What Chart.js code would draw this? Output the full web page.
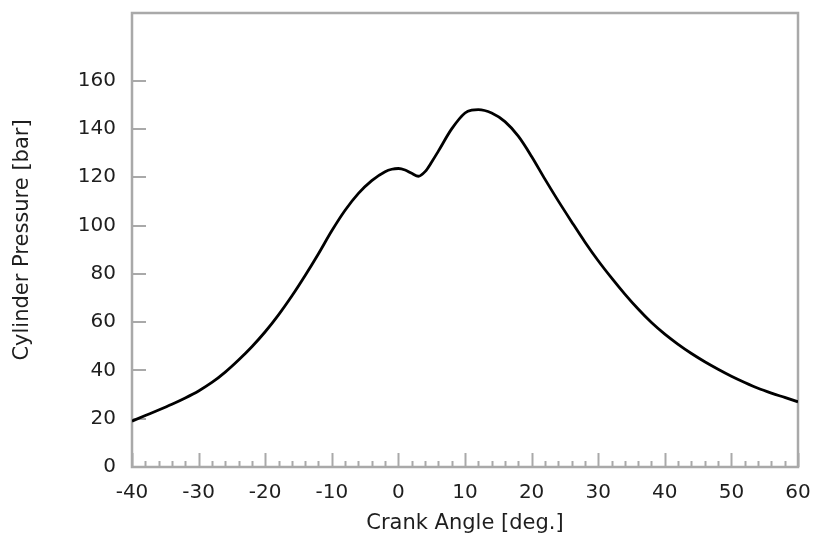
<!DOCTYPE html>
<html>
<head>
<meta charset="utf-8">
<script src="https://cdn.jsdelivr.net/npm/chart.js@4/dist/chart.umd.min.js"></script>
<style>
  html, body { margin: 0; padding: 0; background: #fff; }
  #wrap { width: 818px; height: 546px; }
</style>
</head>
<body>
<div id="wrap"><canvas id="pressureChart"></canvas></div>
<script>
// crank angle [deg.] and cylinder pressure [bar]
var crankAngle = [-40, -38, -36, -34, -32, -30, -28, -26, -24, -22, -20, -18, -16, -14, -12, -10,
                  -8, -6, -4, -2, -1, 0, 1, 2, 3, 4, 5, 6, 8, 10, 11, 12, 14, 16, 18, 20,
                  22, 24, 26, 28, 30, 32, 34, 36, 38, 40, 42, 44, 46, 48, 50, 52, 54, 56, 58, 60];
var pressure = [19, 21.3, 23.6, 26, 28.6, 31.5, 35, 39.3, 44.3, 49.8, 56, 63, 70.8, 79.3, 88.3, 97.8,
                106.3, 113.3, 118.6, 122.3, 123.3, 123.6, 123, 121.6, 120.4, 122.3, 126.3, 130.8, 140, 146.6, 147.8, 148, 146.6, 143, 137, 128.6,
                119.2, 110.2, 101.6, 93.2, 85.4, 78.3, 71.6, 65.4, 59.8, 55, 50.8, 47, 43.6, 40.5, 37.6, 35, 32.6, 30.6, 28.8, 27];

// axis ranges and tick steps
var xRange = [-40, 60];
var xMajorStep = 10;
var xMinorStep = 2;
var yRange = [0, 188];
var yStep = 20;
var yLastLabel = 160;

var points = [];
for (var i = 0; i < crankAngle.length; i++) {
  points.push({ x: crankAngle[i], y: pressure[i] });
}

// grey box round the plot with inward tick marks
var frame = {
  id: 'frame',
  beforeDatasetsDraw: function(chart) {
    var ctx = chart.ctx, a = chart.chartArea;
    var xs = chart.scales.x, ys = chart.scales.y;
    ctx.save();
    ctx.strokeStyle = '#a9a9a9';
    ctx.lineWidth = 2;
    ctx.beginPath();
    for (var v = xRange[0]; v <= xRange[1]; v += xMinorStep) {
      var px = Math.round(xs.getPixelForValue(v)) + 0.5;
      var len = (v % xMajorStep === 0) ? 14 : 6;
      ctx.moveTo(px, a.bottom);
      ctx.lineTo(px, a.bottom - len);
    }
    ys.ticks.forEach(function(t) {
      var py = Math.round(ys.getPixelForValue(t.value));
      ctx.moveTo(a.left, py);
      ctx.lineTo(a.left + 14, py);
    });
    ctx.stroke();
    ctx.lineWidth = 2.5;
    ctx.strokeRect(a.left, a.top, a.right - a.left, a.bottom - a.top);
    ctx.restore();
  }
};

var ctx = document.getElementById('pressureChart');
var pressureChart = new Chart(ctx, {
  type: 'line',
  data: {
    datasets: [{
      data: points,
      borderColor: '#000',
      borderWidth: 2.8,
      pointRadius: 0,
      fill: false,
      cubicInterpolationMode: 'monotone'
    }]
  },
  options: {
    responsive: true,
    maintainAspectRatio: false,
    animation: false,
    layout: { padding: { top: 13, right: 20, left: 0, bottom: 0 } },
    plugins: { legend: { display: false }, tooltip: { enabled: false } },
    scales: {
      x: {
        type: 'linear',
        min: xRange[0],
        max: xRange[1],
        grid: { display: false, drawTicks: false },
        border: { display: false },
        ticks: { stepSize: xMajorStep, padding: 14, color: '#1e1e1e', font: { family: 'DejaVu Sans', size: 20 } },
        title: { display: true, text: 'Crank Angle [deg.]', color: '#1e1e1e',
                 font: { family: 'DejaVu Sans', size: 21 }, padding: { top: 4, bottom: 10 } },
        afterFit: function(scale) {
          scale.height = 79;
          scale.paddingLeft = 0;
          scale.paddingRight = 0;
        }
      },
      y: {
        min: yRange[0],
        max: yRange[1],
        grid: { display: false, drawTicks: false },
        border: { display: false },
        ticks: { stepSize: yStep, padding: 16, color: '#1e1e1e', font: { family: 'DejaVu Sans', size: 20 } },
        title: { display: true, text: 'Cylinder Pressure [bar]', color: '#1e1e1e',
                 font: { family: 'DejaVu Sans', size: 21 }, padding: { top: 10, bottom: 4 } },
        afterBuildTicks: function(scale) {
          scale.ticks = scale.ticks.filter(function(t) { return t.value <= yLastLabel; });
        },
        afterFit: function(scale) {
          scale.width = 132;
          scale.paddingTop = 0;
          scale.paddingBottom = 0;
        }
      }
    }
  },
  plugins: [frame]
});
</script>
</body>
</html>
